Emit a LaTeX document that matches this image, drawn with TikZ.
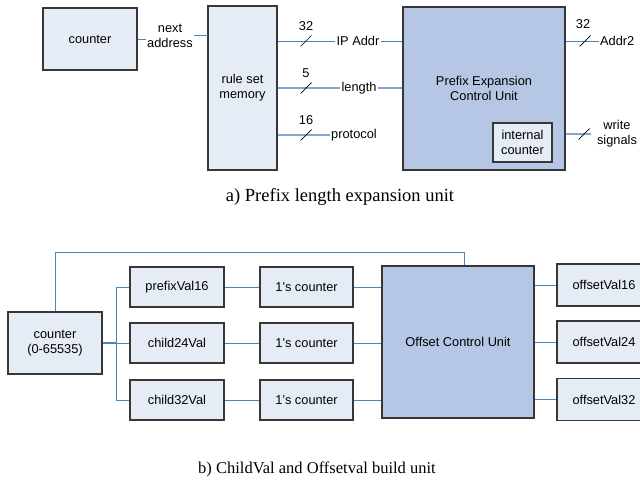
\documentclass[tikz,border=0pt]{standalone}
\usepackage{fontspec}
\setmainfont{Liberation Serif}
\setsansfont{Liberation Sans}
\usetikzlibrary{positioning}

\definecolor{wireblue}{RGB}{79,129,189}
\definecolor{boxfill}{RGB}{230,236,246}
\definecolor{unitfill}{RGB}{181,199,228}
\definecolor{boxline}{RGB}{55,55,55}

\begin{document}
\begin{tikzpicture}[x=1pt,y=-1pt,
    blk/.style={draw=boxline, line width=1.1pt, fill=boxfill, align=center, inner sep=0pt,
                font=\sffamily\fontsize{12.8}{15}\selectfont},
    unit/.style={blk, fill=unitfill},
    wire/.style={wireblue, line width=1pt},
    lbl/.style={inner sep=1pt, align=center, font=\sffamily\fontsize{12.8}{15}\selectfont},
    slash/.style={black, line width=0.7pt},
    capt/.style={inner sep=0pt}]
    \clip (0,0) rectangle (640,482);

    % a) prefix length expansion unit
    \node[blk, minimum width=94, minimum height=62] (cnt) at (90,39) {counter};
    \node[blk, minimum width=69, minimum height=164] (mem) at (242.5,88) {rule set\\memory};
    \node[unit, minimum width=162, minimum height=163] (pecu) at (484,88.5) {Prefix Expansion\\Control Unit};
    \node[blk, minimum width=59, minimum height=39] (icnt) at (522.5,142.5) {internal\\counter};

    \node[lbl] (nxt) at (170,36) {next\\address};
    \coordinate (memin) at (207.5,35);
    \draw[wire] (cnt.east) -- (cnt.east -| nxt.west);
    \draw[wire] (memin -| nxt.east) -- (memin);

    \node[lbl] (ip) at (358,41) {IP Addr};
    \node[lbl] (len) at (359,88) {length};
    \node[lbl] (prot) at (354,135) {protocol};
    \draw[wire] (mem.east |- ip) -- (ip.west);
    \draw[wire] (ip.east) -- (ip.east -| pecu.west);
    \draw[wire, line width=1.4pt, wireblue!70] (mem.east |- len) -- (len.west);
    \draw[wire, line width=1.4pt, wireblue!70] (len.east) -- (len.east -| pecu.west);
    \draw[wire, line width=1.4pt, wireblue!70] (mem.east |- prot) -- (prot.west);
    \node[lbl] (w32) at (306,26) {32};
    \node[lbl] (w5) at (306,73) {5};
    \node[lbl] (w16) at (306,120) {16};
    \draw[slash] (306,41) ++(-5.5,5.5) -- ++(11,-11);
    \draw[slash] (306,88) ++(-5.5,5.5) -- ++(11,-11);
    \draw[slash] (306,135) ++(-5.5,5.5) -- ++(11,-11);

    \node[lbl, anchor=west] (addr) at (599,41) {Addr2};
    \node[lbl] (o32) at (583,24) {32};
    \draw[wire] (pecu.east |- addr) -- (addr.west);
    \draw[slash] (585,41) ++(-5.5,5.5) -- ++(11,-11);
    \node[lbl] (wsig) at (617,134) {write\\signals};
    \coordinate (wsend) at (591,134);
    \draw[wire, line width=1.4pt, wireblue!70] (pecu.east |- wsend) -- (wsend);
    \draw[slash] (584,134) ++(-5.5,5.5) -- ++(11,-11);

    \node[capt, font=\fontsize{18.5}{20}\selectfont] (capa) at (340,197) {a) Prefix length expansion unit};

    % b) ChildVal and Offsetval build unit
    \node[blk, minimum width=94, minimum height=62] (cnt2) at (55,343) {counter\\(0-65535)};
    \node[blk, minimum width=94, minimum height=40] (v16) at (177,287) {prefixVal16};
    \node[blk, minimum width=94, minimum height=40] (v24) at (177,343) {child24Val};
    \node[blk, minimum width=94, minimum height=40] (v32) at (177,400) {child32Val};
    \node[blk, minimum width=93, minimum height=40] (ones16) at (306.5,287) {1's counter};
    \node[blk, minimum width=93, minimum height=40] (ones24) at (306.5,343) {1's counter};
    \node[blk, minimum width=93, minimum height=40] (ones32) at (306.5,400) {1's counter};
    \node[unit, minimum width=152, minimum height=152] (ocu) at (458,342) {Offset Control Unit};
    \node[blk, minimum width=94, minimum height=42] (off16) at (604,285) {offsetVal16};
    \node[blk, minimum width=94, minimum height=42] (off24) at (604,342) {offsetVal24};
    \node[blk, minimum width=94, minimum height=42] (off32) at (604,399.5) {offsetVal32};

    \coordinate (split) at (116,343);
    \coordinate (fb) at (464,252);
    \draw[wire, line width=1.4pt] (cnt2.east) -- (split);
    \draw[wire] (split) -- (v24.west);
    \draw[wire] (v16.west) -| (split |- v32.west) -- (v32.west);
    \draw[wire] (cnt2.north) |- (fb) -- (fb |- ocu.north);
    \draw[wire] (v16) -- (ones16);
    \draw[wire] (v24) -- (ones24);
    \draw[wire] (v32) -- (ones32);
    \draw[wire] (ones16.east) -- (ones16.east -| ocu.west);
    \draw[wire] (ones24.east) -- (ones24.east -| ocu.west);
    \draw[wire] (ones32.east) -- (ones32.east -| ocu.west);
    \draw[wire] (off16.west -| ocu.east) -- (off16.west);
    \draw[wire] (off24.west -| ocu.east) -- (off24.west);
    \draw[wire] (off32.west -| ocu.east) -- (off32.west);

    \node[capt, font=\fontsize{16.5}{18}\selectfont] (capb) at (317,469) {b) ChildVal and Offsetval build unit};
\end{tikzpicture}
\end{document}
